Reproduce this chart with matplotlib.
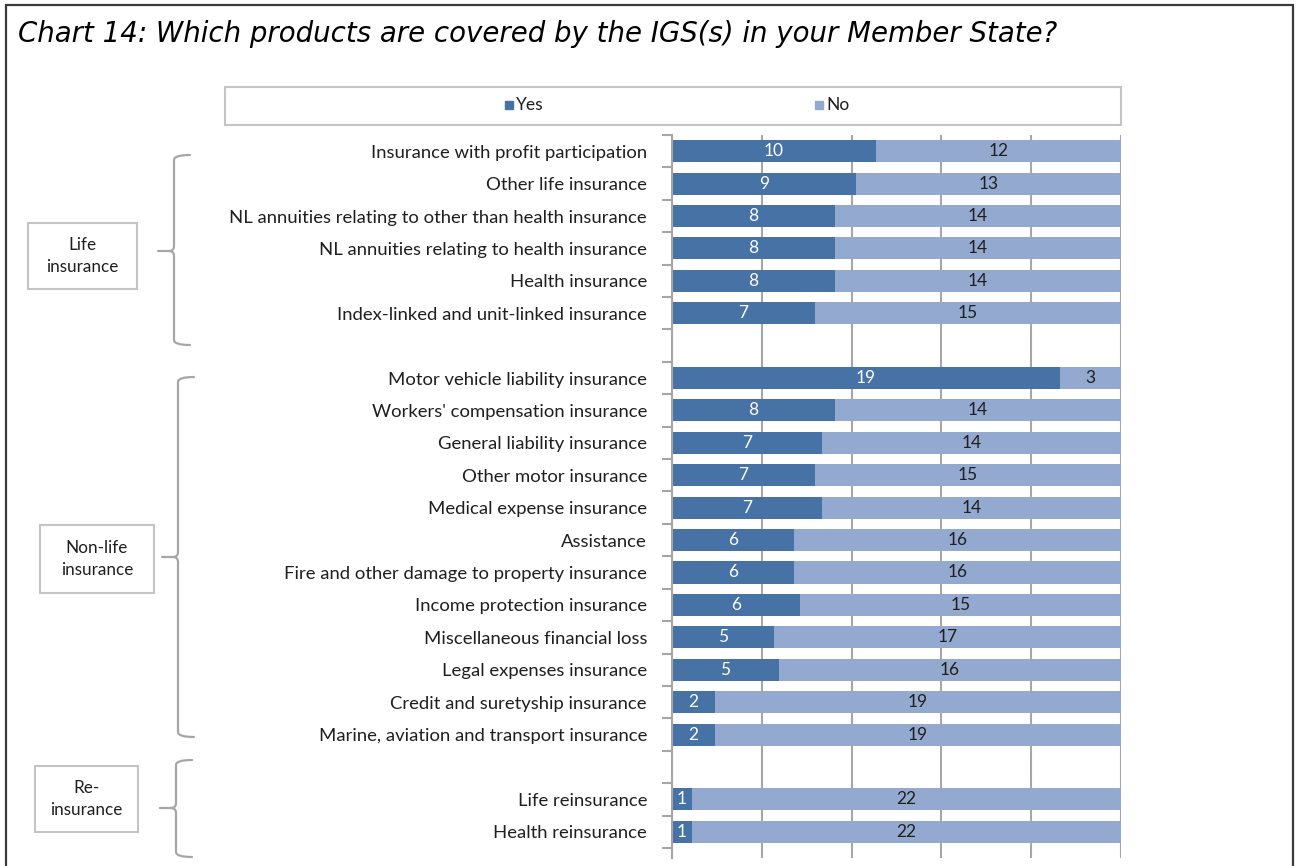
import numpy as np
import matplotlib.pyplot as plt
from matplotlib.patches import Rectangle, PathPatch
from matplotlib.path import Path

# survey answers per product line (blank rows separate the groups)
categories = [
    'Insurance with profit participation',
    'Other life insurance',
    'NL annuities relating to other than health insurance',
    'NL annuities relating to health insurance',
    'Health insurance',
    'Index-linked and unit-linked insurance',
    '',
    'Motor vehicle liability insurance',
    "Workers' compensation insurance",
    'General liability insurance',
    'Other motor insurance',
    'Medical expense insurance',
    'Assistance',
    'Fire and other damage to property insurance',
    'Income protection insurance',
    'Miscellaneous financial loss',
    'Legal expenses insurance',
    'Credit and suretyship insurance',
    'Marine, aviation and transport insurance',
    '',
    'Life reinsurance',
    'Health reinsurance',
]
yes = [10, 9, 8, 8, 8, 7, 0, 19, 8, 7, 7, 7, 6, 6, 6, 5, 5, 2, 2, 0, 1, 1]
no = [12, 13, 14, 14, 14, 15, 0, 3, 14, 14, 15, 14, 16, 16, 15, 17, 16, 19, 19, 0, 22, 22]

group_names = ['Life\ninsurance', 'Non-life\ninsurance', 'Re-\ninsurance']

title = 'Chart 14: Which products are covered by the IGS(s) in your Member State?'

YES_C = '#4672A6'
NO_C = '#93A9CF'
GRID_C = '#A6A6A6'
TXT_C = '#1f1f1f'
FONT = 'Lato'

W, H = 1298, 866
fig = plt.figure(figsize=(W / 100, H / 100), dpi=100)

# ---- main 100% stacked bar chart ----
ax = fig.add_axes([672 / W, (H - 858) / H, 449 / W, 723 / H])
yes_a = np.array(yes, dtype=float)
no_a = np.array(no, dtype=float)
tot = yes_a + no_a
safe = np.where(tot > 0, tot, 1)
yes_pct = yes_a / safe * 100
no_pct = no_a / safe * 100
rows = np.arange(len(categories))

b1 = ax.barh(rows, yes_pct, height=0.68, color=YES_C, zorder=2)
b2 = ax.barh(rows, no_pct, left=yes_pct, height=0.68, color=NO_C, zorder=2)
ax.bar_label(b1, labels=[str(v) if t else '' for v, t in zip(yes, tot)],
             label_type='center', color='white', fontsize=12.5, family=FONT)
ax.bar_label(b2, labels=[str(v) if t else '' for v, t in zip(no, tot)],
             label_type='center', color=TXT_C, fontsize=12.5, family=FONT)

ax.set_xlim(0, 100)
ax.set_ylim(21.81, -0.5)
ax.set_xticks([0, 20, 40, 60, 80, 100])
ax.tick_params(axis='x', length=0, labelbottom=False)
ax.grid(axis='x', color=GRID_C, lw=1.5)
ax.set_axisbelow(True)
ax.set_yticks(rows)
ax.set_yticklabels(categories, fontsize=13.3, family=FONT, color=TXT_C)
ax.set_yticks(np.arange(-0.5, 22, 1), minor=True)
ax.tick_params(axis='y', which='major', length=0, pad=18)
ax.tick_params(axis='y', which='minor', length=7, width=1.5, color=GRID_C)
for s in ['top', 'right', 'bottom']:
    ax.spines[s].set_visible(False)
ax.spines['left'].set_color(GRID_C)
ax.spines['left'].set_linewidth(1.5)

# ---- overlay in pixel coordinates: frame, title, legend, group braces ----
ov = fig.add_axes([0, 0, 1, 1], zorder=-1)
ov.set_xlim(0, W)
ov.set_ylim(H, 0)
ov.axis('off')

ov.plot([6, 6, 1293, 1293], [H + 5, 5, 5, H + 5], color='#3a3a3a', lw=1.6,
        solid_joinstyle='miter', clip_on=False)
ov.text(18, 42, title, fontsize=19.9, style='italic', family='DejaVu Sans',
        color='black', va='baseline', ha='left')

ov.add_patch(Rectangle((225, 87), 896, 38, facecolor='white',
                       edgecolor='#C4C4C4', lw=1.5))
ov.add_patch(Rectangle((505, 101), 8, 8, color=YES_C))
ov.text(516, 105.5, 'Yes', fontsize=12.5, family=FONT, color=TXT_C, va='center')
ov.add_patch(Rectangle((815, 101), 8, 8, color=NO_C))
ov.text(826, 105.5, 'No', fontsize=12.5, family=FONT, color=TXT_C, va='center')


def brace(x, top, bottom, mid, arm=16, nub=16, r=5):
    verts = [(x + arm, top), (x, top), (x, top + r),
             (x, mid - r), (x, mid), (x - r, mid),
             (x - nub, mid),
             (x - r, mid), (x, mid), (x, mid + r),
             (x, bottom - r), (x, bottom), (x + arm, bottom)]
    codes = [Path.MOVETO, Path.CURVE3, Path.CURVE3,
             Path.LINETO, Path.CURVE3, Path.CURVE3,
             Path.LINETO,
             Path.MOVETO, Path.CURVE3, Path.CURVE3,
             Path.LINETO, Path.CURVE3, Path.CURVE3]
    ov.add_patch(PathPatch(Path(verts, codes), fill=False, edgecolor=GRID_C,
                           lw=1.6, capstyle='round'))


braces = [(174, 155, 345, 251), (178, 377, 737, 557), (176, 760, 857, 808)]
boxes = [(28, 223, 109, 66), (40, 525, 114, 68), (35, 766, 103, 66)]
for name, (bx, top, bot, mid), (x0, y0, w, h) in zip(group_names, braces, boxes):
    brace(bx, top, bot, mid)
    ov.add_patch(Rectangle((x0, y0), w, h, facecolor='white',
                           edgecolor='#C4C4C4', lw=1.5))
    ov.text(x0 + w / 2, y0 + h / 2, name, fontsize=12.3, family=FONT,
            color=TXT_C, ha='center', va='center', linespacing=1.45)

fig.savefig('out.png', dpi=100)
